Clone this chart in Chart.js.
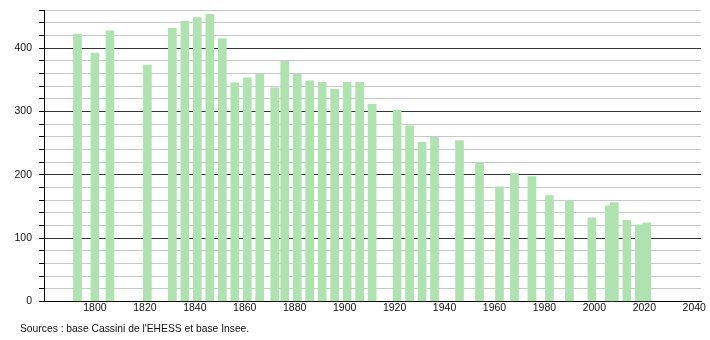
<!DOCTYPE html>
<html>
<head>
<meta charset="utf-8">
<script src="https://cdn.jsdelivr.net/npm/chart.js@4"></script>
<style>
html,body{margin:0;padding:0;background:#fff;}
#wrap{width:710px;height:340px;position:relative;}
</style>
</head>
<body>
<div id="wrap"><canvas id="c" width="710" height="340"></canvas></div>
<script>
const years = [1793,1800,1806,1821,1831,1836,1841,1846,1851,1856,1861,1866,1872,1876,1881,1886,1891,1896,1901,1906,1911,1921,1926,1931,1936,1946,1954,1962,1968,1975,1982,1990,1999,2006,2008,2013,2018,2021];
const population = [422,392,427,373,431,442,448,453,415,345,353,359,337,379,359,348,346,335,346,346,311,302,277,251,259,254,219,181,202,197,167,159,132,151,156,128,121,124];
const xTickLabels = [1800,1820,1840,1860,1880,1900,1920,1940,1960,1980,2000,2020,2040];
const yTickLabels = [0,100,200,300,400];
const sourceText = "Sources : base Cassini de l'EHESS et base Insee.";

const barColor = 'rgb(174,226,174)';
const fontFam = '"Liberation Sans", Arial, sans-serif';

const sourcePlugin = {
  id: 'sourceText',
  afterDraw(chart) {
    const ctx = chart.ctx;
    ctx.save();
    ctx.font = '10.3px ' + fontFam;
    ctx.fillStyle = '#111';
    ctx.textAlign = 'left';
    ctx.textBaseline = 'middle';
    ctx.fillText(sourceText, 20, 329);
    ctx.restore();
  }
};

new Chart(document.getElementById('c'), {
  type: 'bar',
  data: {
    datasets: [{
      data: years.map((y, i) => ({x: y, y: population[i]})),
      backgroundColor: barColor,
      borderWidth: 0,
      barThickness: 8
    }]
  },
  plugins: [sourcePlugin],
  options: {
    responsive: false,
    animation: false,
    events: [],
    layout: {padding: {left: 8, right: 9, top: 10, bottom: 26}},
    plugins: {
      legend: {display: false},
      tooltip: {enabled: false},
      title: {display: false}
    },
    scales: {
      x: {
        type: 'linear',
        offset: false,
        min: 1779.6,
        max: 2042.7,
        afterBuildTicks: s => { s.ticks = xTickLabels.map(v => ({value: v})); },
        afterFit: s => { s.paddingLeft = 0; s.paddingRight = 0; },
        grid: {display: false, drawTicks: false, offset: false},
        border: {display: true, color: '#000', width: 1},
        ticks: {
          callback: v => String(v),
          color: '#111',
          font: {family: fontFam, size: 10.5},
          padding: 0,
          maxRotation: 0,
          autoSkip: false
        }
      },
      y: {
        min: 0,
        max: 460,
        afterFit: s => { s.width = 36; s.paddingTop = 0; s.paddingBottom = 0; },
        grid: {
          color: ctx => (yTickLabels.includes(ctx.tick.value) ? '#333' : '#c8c8c8'),
          tickColor: '#000',
          tickLength: 5,
          lineWidth: 1
        },
        border: {display: true, color: '#000', width: 1},
        ticks: {
          stepSize: 20,
          callback: v => (yTickLabels.includes(v) ? String(v) : ''),
          color: '#111',
          font: {family: fontFam, size: 10.5},
          padding: 7,
          autoSkip: false
        }
      }
    }
  }
});
</script>
</body>
</html>
